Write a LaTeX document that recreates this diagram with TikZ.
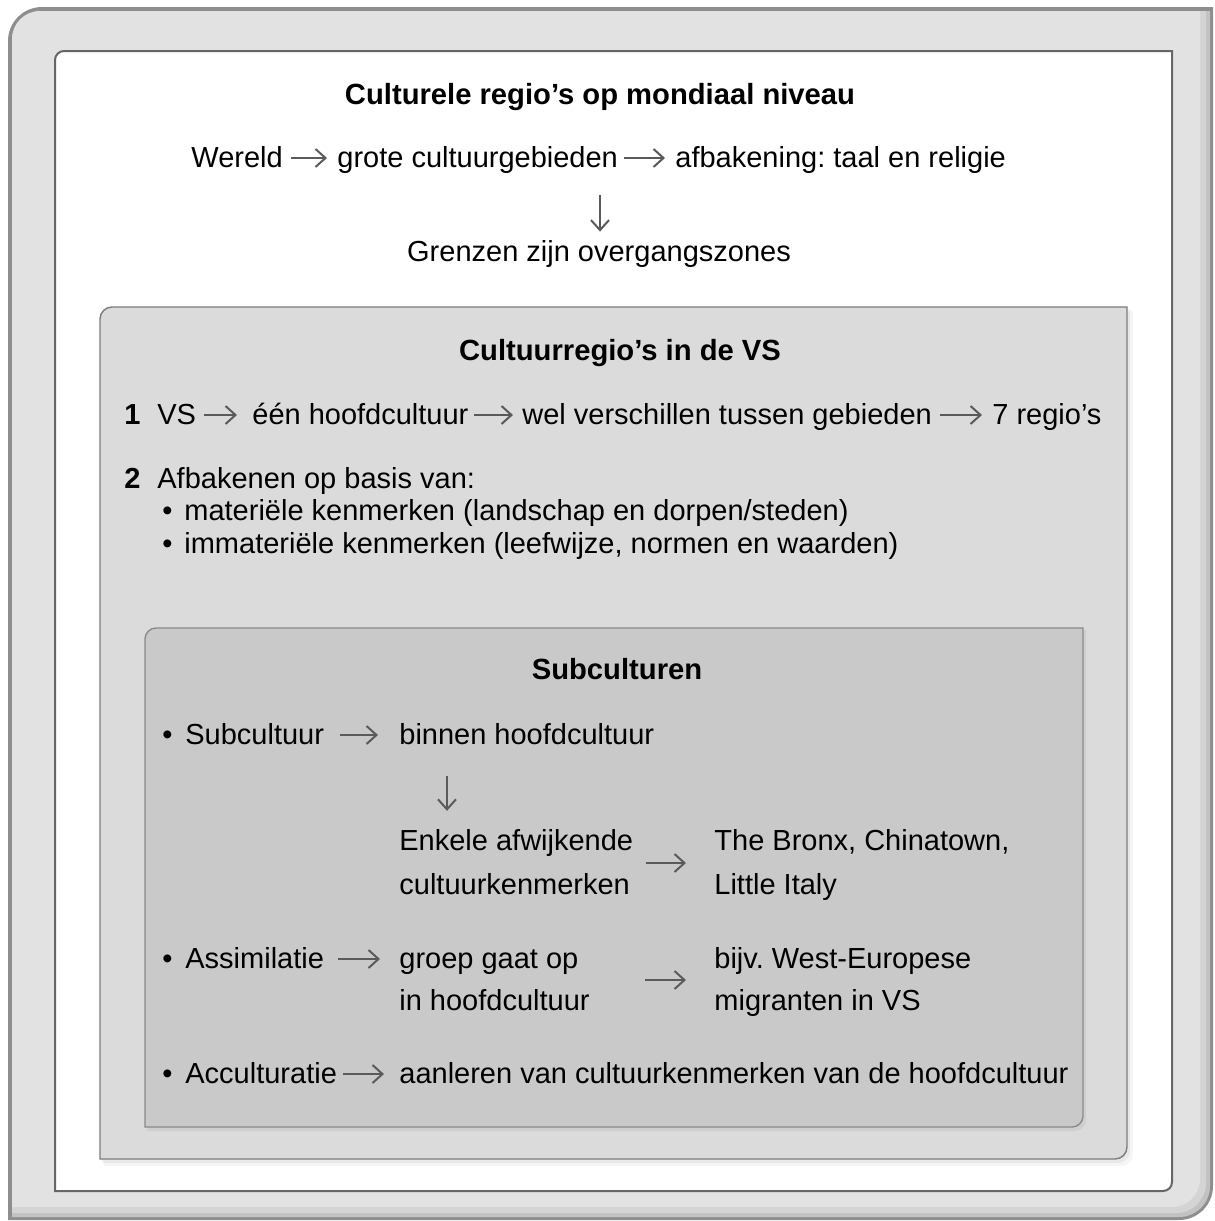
\documentclass[tikz,border=0pt]{standalone}
\usepackage{fontspec}
\setmainfont{Liberation Sans}
\usetikzlibrary{arrows.meta}
\frenchspacing
\definecolor{framegray}{HTML}{8E8E8E}
\definecolor{framefill}{HTML}{E2E2E2}
\definecolor{panelline}{HTML}{666666}
\definecolor{midfill}{HTML}{DBDBDB}
\definecolor{midline}{HTML}{7C7C7C}
\definecolor{innerfill}{HTML}{C9C9C9}
\definecolor{innerline}{HTML}{8A8A8A}
\definecolor{arrowgray}{HTML}{5A5A5A}
% style, x1, y1, x2, y2, radius  (pixel coordinates, y downward)
\newcommand\diagshape[6]{%
  \path[#1] (#2,-#5) -- (#2,{-(#3+#6)}) arc[start angle=180,end angle=90,radius=#6]
    -- (#4,-#3) -- (#4,{-(#5-#6)}) arc[start angle=0,end angle=-90,radius=#6] -- cycle;}
\begin{document}
\begin{tikzpicture}[x=0.5pt,y=0.5pt,
  txt/.style={inner sep=0pt,anchor=base west,font=\fontsize{14.5}{22}\selectfont},
  ctxt/.style={txt,anchor=base},
  ttl/.style={inner sep=0pt,anchor=base,font=\fontsize{14.6}{18}\selectfont\bfseries},
  num/.style={txt,font=\fontsize{14.5}{22}\selectfont\bfseries},
  harr/.style={draw=arrowgray,line width=1pt,-{Straight Barb[length=5pt,width=9pt]},
    shorten <=4pt,shorten >=5pt},
  varr/.style={draw=arrowgray,line width=1pt,-{Straight Barb[length=5pt,width=9pt]}}]
\useasboundingbox (0,0) rectangle (1215,-1221);

% outer frame
\diagshape{fill=framegray}{8}{7}{1213}{1220}{34}
\diagshape{fill=black!24}{12}{11}{1210}{1217}{31}
\diagshape{fill=black!17}{12}{11}{1206}{1213}{30}
\diagshape{fill=framefill}{12}{11}{1200}{1207}{28}

% white panel
\diagshape{fill=white,draw=panelline,line width=1pt}{55}{51}{1172}{1191}{9}

% middle box (with soft shadow)
\diagshape{fill=black,opacity=0.04}{104}{311}{1133}{1166}{12}
\diagshape{fill=black,opacity=0.05}{102}{309}{1130}{1163}{12}
\diagshape{fill=midfill,draw=midline,line width=0.7pt}{100}{307}{1127}{1159}{12}

% inner box
\diagshape{fill=black,opacity=0.05}{147}{630}{1086}{1131}{11}
\diagshape{fill=innerfill,draw=innerline,line width=0.7pt}{145}{628}{1083}{1127}{11}

% ---- top section
\node[ttl] (t1) at (600,-104) {Culturele regio’s op mondiaal niveau};
\node[txt] (w1) at (191,-167) {Wereld};
\node[txt] (w2) at (337,-167) {grote cultuurgebieden};
\node[txt] (w3) at (675,-167) {afbakening: taal en religie};
\draw[harr] ([yshift=4.5pt]w1.base east) -- ([yshift=4.5pt]w2.base west);
\draw[harr,shorten <=3pt] ([yshift=4.5pt]w2.base east) -- ([yshift=4.5pt]w3.base west);
\coordinate (d1) at (600,-195);
\node[ctxt] (gz) at (599,-261) {Grenzen zijn overgangszones};
\draw[varr,shorten >=4pt] (d1) -- (gz.north -| d1);

% ---- VS section
\node[ttl] (t2) at (620,-360) {Cultuurregio’s in de VS};
\node[num] (n1) at (124,-424) {1};
\node[txt] (vs) at (157,-424) {VS};
\node[txt] (een) at (252,-424) {één hoofdcultuur};
\node[txt] (wel) at (522,-424) {wel verschillen tussen gebieden};
\node[txt] (r7) at (992,-424) {7 regio’s};
\draw[harr,shorten >=7.5pt] ([yshift=4.5pt]vs.base east) -- ([yshift=4.5pt]een.base west);
\draw[harr,shorten <=2.5pt,shorten >=4.5pt] ([yshift=4.5pt]een.base east) -- ([yshift=4.5pt]wel.base west);
\draw[harr] ([yshift=4.5pt]wel.base east) -- ([yshift=4.5pt]r7.base west);

\node[num] (n2) at (124,-488) {2};
\node[txt] (afb) at (157,-488) {Afbakenen op basis van:};
\node[txt] (b1) at (162,-520) {•};
\node[txt] (mat) at (184,-520) {materiële kenmerken (landschap en dorpen/steden)};
\node[txt] (b2) at (162,-553) {•};
\node[txt] (imm) at (184,-553) {immateriële kenmerken (leefwijze, normen en waarden)};

% ---- Subculturen
\node[ttl] (t3) at (617,-679) {Subculturen};
\node[txt] (b3) at (162,-744) {•};
\node[txt] (sub) at (185,-744) {Subcultuur};
\node[txt] (bin) at (399,-744) {binnen hoofdcultuur};
\draw[harr,shorten <=8pt,shorten >=10.5pt] ([yshift=4.5pt]sub.base east) -- ([yshift=4.5pt]bin.base west);
\coordinate (d2) at (447,-776);
\node[txt] (enk) at (399,-850) {\begin{tabular}[t]{@{}l@{}}Enkele afwijkende\\cultuurkenmerken\end{tabular}};
\node[txt] (brx) at (714,-850) {\begin{tabular}[t]{@{}l@{}}The Bronx, Chinatown,\\Little Italy\end{tabular}};
\draw[varr,shorten >=4pt] (d2) -- (enk.north -| d2);
\draw[harr,shorten <=6pt,shorten >=14pt] ([yshift=-6.5pt]enk.base east) -- ([yshift=-6.5pt]brx.base west);

\node[txt] (b4) at (162,-968) {•};
\node[txt] (asm) at (185,-968) {Assimilatie};
\node[txt] (grp) at (399,-968) {\begin{tabular}[t]{@{}l@{}}groep gaat op\\[-1pt]in hoofdcultuur\end{tabular}};
\node[txt] (bij) at (714,-968) {\begin{tabular}[t]{@{}l@{}}bijv. West-Europese\\[-1pt]migranten in VS\end{tabular}};
\draw[harr,shorten <=7pt,shorten >=9.5pt] ([yshift=4.5pt]asm.base east) -- ([yshift=4.5pt]grp.base west);
\draw[harr,shorten <=27.5pt,shorten >=14pt] ([yshift=-6pt]grp.base east) -- ([yshift=-6pt]bij.base west);

\node[txt] (b5) at (162,-1083) {•};
\node[txt] (acc) at (185,-1083) {Acculturatie};
\node[txt] (aan) at (399,-1083) {aanleren van cultuurkenmerken van de hoofdcultuur};
\draw[harr,shorten <=3pt,shorten >=7.5pt] ([yshift=4.5pt]acc.base east) -- ([yshift=4.5pt]aan.base west);
\end{tikzpicture}
\end{document}
